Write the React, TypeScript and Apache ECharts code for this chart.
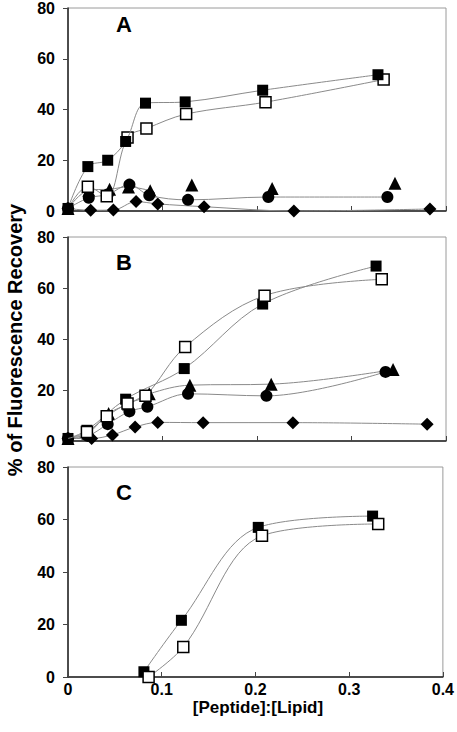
import React, { useEffect, useRef } from "react";
import * as echarts from "echarts";

// ---------- DATA ([Peptide]:[Lipid], % of Fluorescence Recovery) ----------
// Panel A
const A_FILLED_SQUARES: number[][] = [[0, 1], [0.021, 17.5], [0.042, 20], [0.061, 27.4], [0.082, 42.5], [0.124, 43], [0.206, 47.6], [0.328, 53.7]];
const A_OPEN_SQUARES: number[][] = [[0, 1], [0.021, 9.6], [0.041, 5.8], [0.063, 29], [0.083, 32.5], [0.125, 38.2], [0.209, 42.9], [0.334, 51.8]];
const A_TRIANGLES_LINKED: number[][] = [[0, 1], [0.022, 8.2], [0.044, 8.6], [0.064, 9.5], [0.087, 8.0]];
const A_TRIANGLES_LOOSE: number[][] = [[0.131, 10.2], [0.216, 8.9], [0.346, 10.9]];
const A_CIRCLES: number[][] = [[0, 1], [0.022, 5.2], [0.042, 6.5], [0.065, 10.4], [0.086, 6.2], [0.127, 4.4], [0.212, 5.5], [0.338, 5.5]];
const A_DIAMONDS: number[][] = [[0, 1], [0.024, 0.3], [0.048, 0.4], [0.072, 3.7], [0.095, 2.8], [0.144, 1.7], [0.239, 0], [0.383, 0.8]];

// Panel B
const B_FILLED_SQUARES: number[][] = [[0, 1], [0.020, 4.2], [0.061, 16.4], [0.123, 28.4], [0.206, 53.7], [0.326, 68.6]];
const B_OPEN_SQUARES: number[][] = [[0, 1], [0.020, 3.5], [0.041, 9.7], [0.063, 14.7], [0.082, 17.7], [0.124, 36.9], [0.208, 57.0], [0.332, 63.4]];
const B_TRIANGLES: number[][] = [[0, 1], [0.021, 3.0], [0.043, 10.8], [0.064, 14.5], [0.086, 18.5], [0.129, 21.9], [0.215, 22.3], [0.344, 28.0]];
const B_CIRCLES: number[][] = [[0, 1], [0.021, 2.0], [0.042, 6.6], [0.065, 11.6], [0.084, 13.4], [0.127, 18.5], [0.210, 17.7], [0.336, 27.1]];
const B_DIAMONDS: number[][] = [[0, 1], [0.025, 1.0], [0.047, 2.4], [0.071, 5.5], [0.095, 7.3], [0.143, 7.2], [0.238, 7.2], [0.380, 6.6]];

// Panel C
const C_FILLED_SQUARES: number[][] = [[0.081, 2.0], [0.121, 21.6], [0.203, 57.0], [0.325, 61.3]];
const C_OPEN_SQUARES: number[][] = [[0.086, 0], [0.123, 11.4], [0.207, 53.8], [0.331, 58.3]];

// Axes
const X_TICKS = [0, 0.1, 0.2, 0.3, 0.4];
const Y_TICKS = [0, 20, 40, 60, 80];
const PANEL_LABELS = ["A", "B", "C"];
const X_TITLE = "[Peptide]:[Lipid]";
const Y_TITLE = "% of Fluorescence Recovery";

const FONT = 'Arial, "Liberation Sans", Helvetica, sans-serif';

type Kind = "filled" | "open" | "triangle" | "circle" | "diamond";

function makeSeries(data: number[][], grid: number, kind: Kind, withLine = true, hideFirst = false) {
  const symbol = kind === "filled" || kind === "open" ? "rect" : kind;
  const size = kind === "triangle" ? 13 : kind === "diamond" ? 13 : kind === "circle" ? 12 : 11;
  const z = { diamond: 2, triangle: 3, circle: 4, filled: 5, open: 6 }[kind];
  const items = data.map((d, i) =>
    hideFirst && i === 0 ? { value: d, symbolSize: 0 } : { value: d }
  );
  return {
    type: withLine ? "line" : "scatter",
    xAxisIndex: grid,
    yAxisIndex: grid,
    data: items,
    smooth: 0.35,
    symbol,
    symbolSize: size,
    showSymbol: true,
    z,
    lineStyle: { color: "#8a8a8a", width: 1 },
    itemStyle:
      kind === "open"
        ? { color: "#ffffff", borderColor: "#000000", borderWidth: 1.5, opacity: 1 }
        : { color: "#000000", borderWidth: 0, opacity: 1 },
    emphasis: { disabled: true },
  };
}

const GRIDS = [
  { left: 68, top: 2, width: 378, height: 209 },
  { left: 68, top: 237, width: 378, height: 204 },
  { left: 68, top: 467, width: 378, height: 210 },
];

export default function App() {
  const ref = useRef<HTMLDivElement>(null);

  useEffect(() => {
    if (!ref.current) return;
    const chart = echarts.init(ref.current, null, { renderer: "svg" });

    const grid = GRIDS.map((g) => ({
      ...g,
      show: true,
      borderColor: "#9a9a9a",
      borderWidth: 1,
      backgroundColor: "transparent",
    }));

    const xAxis = GRIDS.map((_, i) => ({
      type: "value",
      gridIndex: i,
      min: X_TICKS[0],
      max: X_TICKS[X_TICKS.length - 1],
      interval: 0.1,
      axisLine: { show: true, onZero: false, lineStyle: { color: "#222", width: 1.5 } },
      axisTick: { show: true, inside: true, length: 5, lineStyle: { color: "#444", width: 1 } },
      splitLine: { show: false },
      axisLabel: {
        show: i === 2,
        margin: 4,
        color: "#000",
        fontFamily: FONT,
        fontWeight: "bold",
        fontSize: 16,
        formatter: (v: number) => (Math.abs(v) < 1e-9 ? "0" : String(Math.round(v * 10) / 10)),
      },
    }));

    const yAxis = GRIDS.map((_, i) => ({
      type: "value",
      gridIndex: i,
      min: Y_TICKS[0],
      max: Y_TICKS[Y_TICKS.length - 1],
      interval: 20,
      axisLine: { show: true, lineStyle: { color: "#222", width: 1.5 } },
      axisTick: { show: true, inside: false, length: 5, lineStyle: { color: "#444", width: 1 } },
      splitLine: { show: false },
      axisLabel: {
        margin: 13,
        color: "#000",
        fontFamily: FONT,
        fontWeight: "bold",
        fontSize: 16,
        verticalAlign: "middle",
        padding: [12, 0, 0, 0],
      },
    }));

    const series: any[] = [
      makeSeries(A_DIAMONDS, 0, "diamond"),
      makeSeries(A_TRIANGLES_LINKED, 0, "triangle"),
      makeSeries(A_TRIANGLES_LOOSE, 0, "triangle", false),
      makeSeries(A_CIRCLES, 0, "circle"),
      makeSeries(A_OPEN_SQUARES, 0, "open", true, true),
      makeSeries(A_FILLED_SQUARES, 0, "filled"),

      makeSeries(B_DIAMONDS, 1, "diamond"),
      makeSeries(B_CIRCLES, 1, "circle"),
      makeSeries(B_TRIANGLES, 1, "triangle"),
      makeSeries(B_FILLED_SQUARES, 1, "filled"),
      makeSeries(B_OPEN_SQUARES, 1, "open", true, true),

      makeSeries(C_OPEN_SQUARES, 2, "open"),
      makeSeries(C_FILLED_SQUARES, 2, "filled"),
    ];
    series[5].z = 7;

    const letterPos = [
      [124, 24],
      [124, 262],
      [124, 492],
    ];

    const graphic: any[] = PANEL_LABELS.map((t, i) => ({
      type: "text",
      x: letterPos[i][0],
      y: letterPos[i][1],
      z: 20,
      style: {
        text: t,
        font: `bold 22px ${FONT}`,
        fill: "#000",
        textAlign: "center",
        textVerticalAlign: "middle",
        align: "center",
        verticalAlign: "middle",
      },
    }));
    graphic.push({
      type: "text",
      x: 15,
      y: 340,
      rotation: Math.PI / 2,
      z: 20,
      style: {
        text: Y_TITLE,
        font: `bold 20px ${FONT}`,
        fill: "#000",
        textAlign: "center",
        textVerticalAlign: "middle",
        align: "center",
        verticalAlign: "middle",
      },
    });
    graphic.push({
      type: "text",
      x: 258,
      y: 707,
      z: 20,
      style: {
        text: X_TITLE,
        font: `bold 17px ${FONT}`,
        fill: "#000",
        textAlign: "center",
        textVerticalAlign: "middle",
        align: "center",
        verticalAlign: "middle",
      },
    });

    chart.setOption({
      animation: false,
      backgroundColor: "#ffffff",
      grid,
      xAxis,
      yAxis,
      series,
      graphic,
    });

    return () => chart.dispose();
  }, []);

  return (
    <div
      ref={ref}
      style={{ position: "absolute", left: 0, top: 0, width: 457, height: 732, background: "#fff" }}
    />
  );
}
